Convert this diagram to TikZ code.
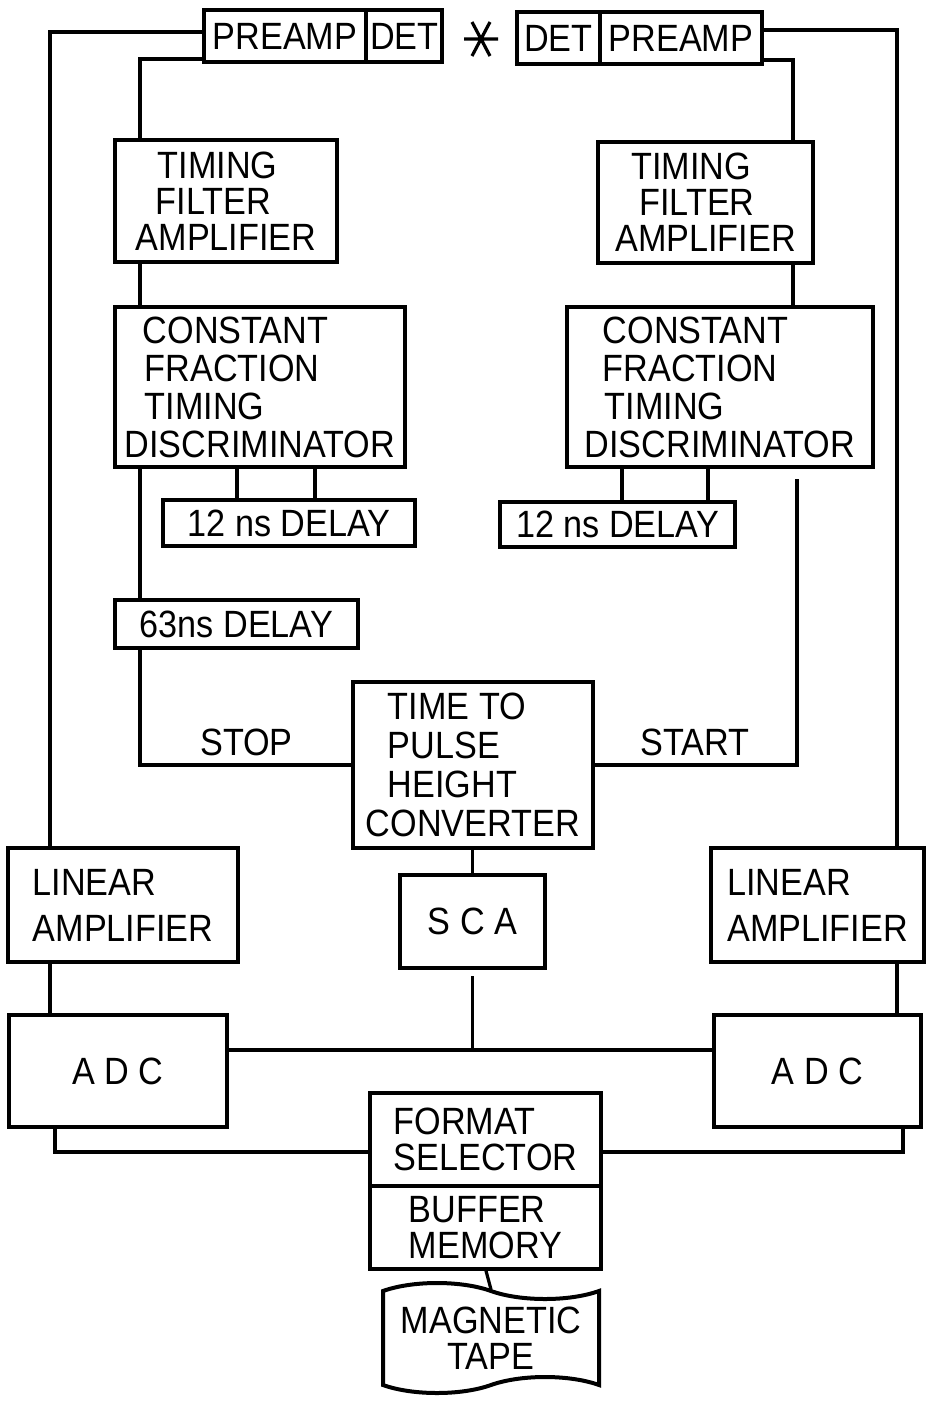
\documentclass[tikz,border=0pt]{standalone}
\usepackage{fontspec}
\setmainfont{Liberation Sans}[FakeStretch=0.9]
\usetikzlibrary{positioning,shapes.symbols}
\newcommand{\blkfont}{\fontsize{19}{18}\selectfont}

\begin{document}
\begin{tikzpicture}[x=0.5pt, y=-0.5pt,
  every node/.style={font=\blkfont},
  blk/.style={draw, line width=2pt, align=left, anchor=north west, inner sep=2pt, outer sep=0pt},
  conn/.style={line width=1.6pt},
  lbl/.style={above=0.5pt}
]
\useasboundingbox (0,0) rectangle (929,1403);

% detectors and source
\node[blk, minimum width=81pt, minimum height=26pt] (preL) at (204,10) {PREAMP};
\node[blk, right=0pt of preL, minimum width=37pt, minimum height=26pt] (detL) {DET};
\node[blk, minimum width=41.5pt, minimum height=26pt] (detR) at (517,12) {DET};
\node[blk, right=0pt of detR, minimum width=81pt, minimum height=26pt] (preR) {PREAMP};
\coordinate (src) at (481,39);
\draw[conn] (src) ++(-9,-17) -- ++(18,34) (src) ++(9,-17) -- ++(-18,34) (src) ++(-17,0) -- ++(34,0);

% timing branches
\node[blk, minimum width=111pt, minimum height=61pt] (tfaL) at (115,140) {\hspace*{11pt}TIMING\\\hspace*{10pt}FILTER\\AMPLIFIER};
\node[blk, minimum width=145pt, minimum height=80pt, inner xsep=1pt, font=\fontsize{19}{19}\selectfont] (cftdL) at (115,307) {\hspace*{9pt}CONSTANT\\\hspace*{10pt}FRACTION\\\hspace*{10pt}TIMING\\DISCRIMINATOR};
\node[blk, align=center, minimum width=126pt, minimum height=23pt] (dly12L) at (163,500) {12 ns DELAY};
\node[blk, align=center, minimum width=121.5pt, minimum height=24pt] (dly63) at (115,600) {63ns DELAY};
\node[blk, minimum width=107.5pt, minimum height=60.5pt] (tfaR) at (598,142) {\hspace*{8pt}TIMING\\\hspace*{12pt}FILTER\\AMPLIFIER};
\node[blk, minimum width=153pt, minimum height=80pt, font=\fontsize{19}{19}\selectfont] (cftdR) at (567,307) {\hspace*{9pt}CONSTANT\\\hspace*{9pt}FRACTION\\\hspace*{10pt}TIMING\\DISCRIMINATOR};
\node[blk, align=center, minimum width=117.5pt, minimum height=22.5pt] (dly12R) at (500,502) {12 ns DELAY};
\node[blk, minimum width=120pt, minimum height=83pt, font=\fontsize{19}{19.5}\selectfont] (tphc) at (353,682) {\hspace*{11pt}TIME TO\\\hspace*{11pt}PULSE\\\hspace*{11pt}HEIGHT\\CONVERTER};

% energy branches
\node[blk, minimum width=115pt, minimum height=57pt] (lamL) at (8,848) {LINEAR\\[5pt]AMPLIFIER};
\node[blk, align=center, minimum width=72.5pt, minimum height=46.5pt] (sca) at (400,875) {S C A};
\node[blk, minimum width=106.5pt, minimum height=57pt] (lamR) at (711,848) {LINEAR\\[5pt]AMPLIFIER};
\node[blk, align=center, minimum width=109pt, minimum height=56pt] (adcL) at (9,1015) {A D C};
\node[blk, align=center, minimum width=103.5pt, minimum height=56pt] (adcR) at (714,1015) {A D C};
\node[blk, minimum width=115.5pt, minimum height=46.5pt] (fmt) at (370,1093) {FORMAT\\SELECTOR};
\node[blk, below=0pt of fmt, minimum width=115.5pt, minimum height=41.5pt] (buf) {BUFFER\\MEMORY};
\node[draw, line width=2pt, shape=tape, tape bend top=out and in, tape bend bottom=in and out, tape bend height=8pt,
      align=center, minimum width=108pt, minimum height=55pt] (tape) at (491,1338) {MAGNETIC\\TAPE};

% connectors
\coordinate (oL) at (50,32);
\coordinate (iL) at (140,59);
\coordinate (oR) at (897,30);
\coordinate (iR) at (793,60);
\draw[conn] (preL.west |- oL) -- (oL) -- (lamL.north -| oL);
\draw[conn] (preL.west |- iL) -- (iL) -- (tfaL.north -| iL);
\draw[conn] (preR.east |- oR) -- (oR) -- (lamR.north -| oR);
\draw[conn] (preR.east |- iR) -- (iR) -- (tfaR.north -| iR);
\draw[conn] (tfaL.south -| iL) -- (cftdL.north -| iL);
\draw[conn] (tfaR.south -| iR) -- (cftdR.north -| iR);

\coordinate (dL1) at (237,0);
\coordinate (dL2) at (315,0);
\coordinate (dR1) at (622,0);
\coordinate (dR2) at (708,0);
\draw[conn] (cftdL.south -| dL1) -- (dly12L.north -| dL1);
\draw[conn] (cftdL.south -| dL2) -- (dly12L.north -| dL2);
\draw[conn] (cftdR.south -| dR1) -- (dly12R.north -| dR1);
\draw[conn] (cftdR.south -| dR2) -- (dly12R.north -| dR2);
\draw[conn] (cftdL.south -| iL) -- (dly63.north -| iL);

\coordinate (sR) at (797,0);
\draw[conn] (dly63.south -| iL) |- (tphc.west) node[lbl, pos=0.75] (stop) {STOP};
\draw[conn, shorten <=6pt] (cftdR.south -| sR) |- (tphc.east) node[lbl, pos=0.75] (start) {START};
\draw[conn] (sca.north |- tphc.south) -- (sca.north);

\coordinate (bus) at (472,1050);
\draw[conn] (adcL.east |- bus) -- (adcR.west |- bus);
\draw[conn, shorten <=4pt] (sca.south) -- (sca.south |- bus);
\draw[conn] (lamL.south -| oL) -- (adcL.north -| oL);
\draw[conn] (lamR.south -| oR) -- (adcR.north -| oR);

\coordinate (fL) at (55,1152);
\coordinate (fR) at (903,1152);
\draw[conn] (adcL.south -| fL) -- (fL) -- (fmt.west |- fL);
\draw[conn] (adcR.south -| fR) -- (fR) -- (fmt.east |- fR);
\draw[conn] (buf.south) -- (tape.north);
\end{tikzpicture}
\end{document}
